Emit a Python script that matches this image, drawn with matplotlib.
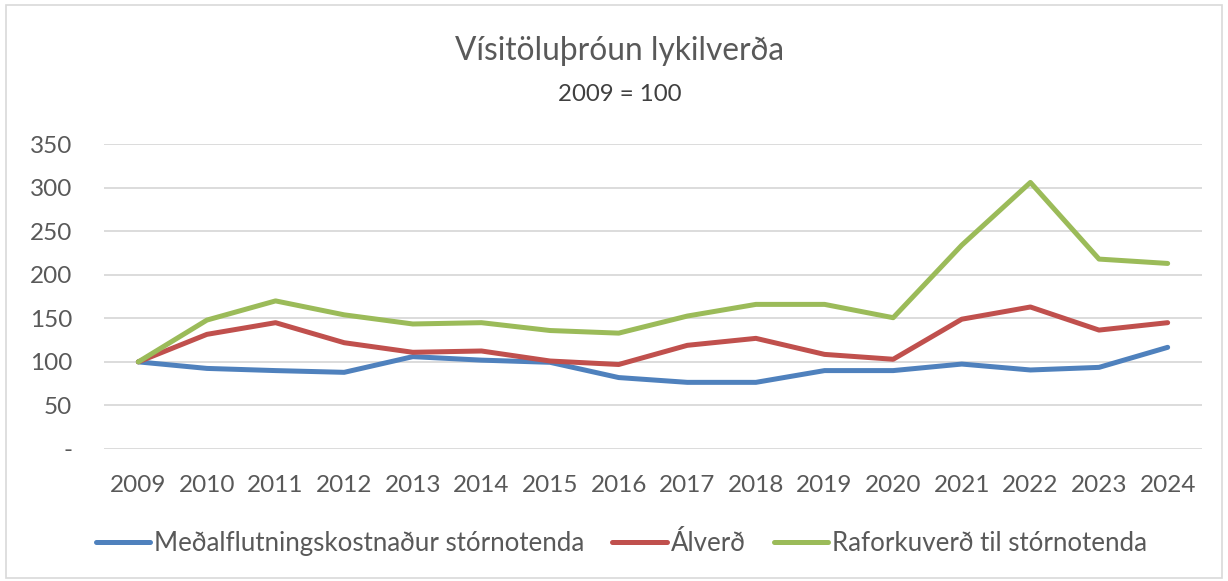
import matplotlib.pyplot as plt
from matplotlib.patches import Rectangle

plt.rcParams['font.family'] = ['Lato', 'DejaVu Sans']

years = ['2009', '2010', '2011', '2012', '2013', '2014', '2015', '2016',
         '2017', '2018', '2019', '2020', '2021', '2022', '2023', '2024']

# index series, 2009 = 100
flutningur = [100, 92.5, 90, 88, 106, 102, 99.5, 82, 76.5, 76.5, 90, 90, 97.5, 90.7, 93.7, 116.7]
alverd = [100, 131.6, 145, 122, 111, 112.5, 101, 97, 119, 127, 108.6, 103, 149, 163, 136.5, 145]
raforka = [100, 148, 170, 154, 143.5, 145, 136, 133, 152.6, 166, 166, 150.7, 234, 306, 218, 213]

labels = ['Meðalflutningskostnaður stórnotenda', 'Álverð', 'Raforkuverð til stórnotenda']
colors = ['#4F81BD', '#C0504D', '#9BBB59']
yticks = [0, 50, 100, 150, 200, 250, 300, 350]
ytick_labels = ['-', '50', '100', '150', '200', '250', '300', '350']

fig = plt.figure(figsize=(12.28, 5.81), dpi=100)
fig.patches.append(Rectangle((0.005, 0.006), 0.99, 0.986, transform=fig.transFigure,
                             fill=False, edgecolor='#D9D9D9', linewidth=1.2))

ax = fig.add_axes([0.0847, 0.2272, 0.8941, 0.5248])
x = range(len(years))
for series, label, color in zip([flutningur, alverd, raforka], labels, colors):
    ax.plot(x, series, color=color, linewidth=3.6, label=label,
            solid_capstyle='round', solid_joinstyle='round')

ax.set_xlim(-0.5, len(years) - 0.5)
ax.set_ylim(0, 350)
ax.set_xticks(list(x))
ax.set_xticklabels(years)
ax.set_yticks(yticks)
ax.set_yticklabels(ytick_labels)
ax.grid(axis='y', color='#D9D9D9', linewidth=1.3)
ax.set_axisbelow(True)
for side in ['top', 'right', 'left', 'bottom']:
    ax.spines[side].set_visible(False)
ax.tick_params(axis='both', length=0, labelsize=17.5, labelcolor='#595959')
ax.tick_params(axis='y', pad=23)
ax.tick_params(axis='x', pad=19)

fig.text(0.5045, 0.913, 'Vísitöluþróun lykilverða', ha='center', va='center',
         fontsize=22.8, color='#595959')
fig.text(0.5045, 0.838, '2009 = 100', ha='center', va='center',
         fontsize=17.3, color='#404040')

fig.legend(loc='center', bbox_to_anchor=(0.506, 0.0637), ncol=3, frameon=False,
           fontsize=18.6, labelcolor='#595959', handlelength=2.1, handletextpad=0.15,
           columnspacing=1.1)

fig.savefig('out.png', dpi=100)
